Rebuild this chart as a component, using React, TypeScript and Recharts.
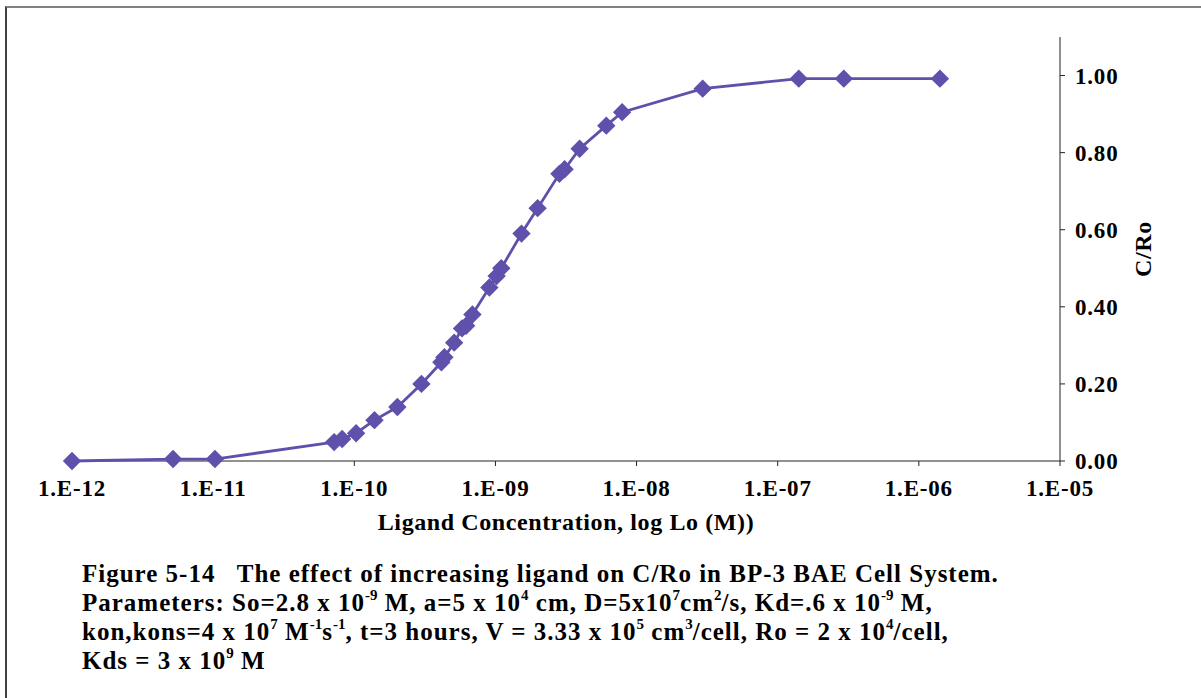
import React from 'react'
import { ScatterChart, Scatter, XAxis, YAxis } from 'recharts'

// ligand concentration (M) and C/Ro
const ligand = [
    1.0e-12, 5.2e-12, 1.03e-11, 7.2e-11, 8.2e-11, 1.03e-10, 1.39e-10, 2.02e-10, 2.99e-10,
    4.14e-10, 4.35e-10, 5.1e-10, 5.8e-10, 6.2e-10, 6.87e-10, 9.06e-10, 1.02e-9, 1.1e-9,
    1.53e-9, 1.99e-9, 2.84e-9, 3.09e-9, 3.95e-9, 6.1e-9, 7.9e-9, 2.94e-8, 1.41e-7, 2.94e-7, 1.41e-6,
]
const cRo = [
    0.0, 0.005, 0.005, 0.049, 0.057, 0.072, 0.106, 0.14, 0.2,
    0.256, 0.269, 0.307, 0.344, 0.351, 0.38, 0.45, 0.48, 0.5,
    0.59, 0.656, 0.745, 0.757, 0.81, 0.87, 0.905, 0.966, 0.992, 0.992, 0.992,
]
const xTicks = [1e-12, 1e-11, 1e-10, 1e-9, 1e-8, 1e-7, 1e-6, 1e-5]
const yTicks = [0, 0.2, 0.4, 0.6, 0.8, 1.0]

const data = ligand.map((x, i) => ({ x, y: cRo[i] }))

const purple = '#5f50ab'
const font = "'Liberation Serif', serif"
const tickStyle = { fill: '#000', fontSize: 23, fontWeight: 700, fontFamily: font, letterSpacing: 0.8 }

function Diamond(props: any) {
    const { cx, cy } = props
    const r = 9.2
    return <path d={`M${cx},${cy - r}L${cx + r},${cy}L${cx},${cy + r}L${cx - r},${cy}Z`} fill={purple} />
}

function fmtX(v: number) {
    const e = Math.round(Math.log10(v))
    return '1.E' + (e < 0 ? '-' : '+') + String(Math.abs(e)).padStart(2, '0')
}

function YTitle(props: any) {
    const vb = props.viewBox
    const x = vb.x + vb.width / 2 + 12
    const y = vb.y + vb.height / 2
    return (
        <text x={x} y={y} transform={`rotate(-90, ${x}, ${y})`} textAnchor="middle" dominantBaseline="central"
            fontSize={24} fontWeight={700} fontFamily={font} fill="#000" style={{ letterSpacing: 0.6 }}>C/Ro</text>
    )
}

const sup = (s: string) => (
    <sup style={{ fontSize: '0.6em', lineHeight: 0, verticalAlign: '0.75em', letterSpacing: 0 }}>{s}</sup>
)

export default function App() {
    return (
        <div style={{ position: 'absolute', left: 0, top: 0, width: 1201, height: 698, overflow: 'hidden', background: '#fff' }}>
            <div style={{ position: 'absolute', left: 5, top: 6, width: 1300, height: 800, borderTop: '2px solid #808080', borderLeft: '2px solid #404040' }} />
            <div style={{ position: 'absolute', left: 0, top: 0 }}>
                <ScatterChart width={1201} height={550} margin={{ top: 37, right: 0, bottom: 0, left: 72 }}>
                    <XAxis type="number" dataKey="x" scale="log" domain={[1e-12, 1e-5]} ticks={xTicks} interval={0}
                        tickFormatter={fmtX} height={89} stroke="#222" tick={tickStyle}
                        tickSize={5} tickMargin={14}
                        label={{ value: 'Ligand Concentration, log Lo (M))', position: 'insideBottom', offset: 20,
                            style: { fill: '#000', fontSize: 24, fontWeight: 700, fontFamily: font, letterSpacing: 0.6 } }} />
                    <YAxis type="number" dataKey="y" orientation="right" domain={[0, 1.1]} ticks={yTicks} interval={0}
                        tickFormatter={(v: number) => v.toFixed(2)} width={141} stroke="#222"
                        tick={tickStyle} tickSize={5} tickMargin={10} label={<YTitle />} />
                    <Scatter data={data} line={{ stroke: purple, strokeWidth: 2.8 }} shape={<Diamond />}
                        isAnimationActive={false} />
                </ScatterChart>
            </div>
            <div style={{ position: 'absolute', left: 82, top: 559, fontFamily: font, fontWeight: 700, fontSize: 25,
                lineHeight: '29px', letterSpacing: 1, whiteSpace: 'nowrap', color: '#000' }}>
                <div>Figure 5-14&nbsp;&nbsp; The effect of increasing ligand on C/Ro in BP-3 BAE Cell System.</div>
                <div>Parameters: So=2.8 x 10{sup('-9')} M, a=5 x 10{sup('4')} cm, D=5x10{sup('7')}cm{sup('2')}/s, Kd=.6 x 10{sup('-9')} M,</div>
                <div>kon,kons=4 x 10{sup('7')} M{sup('-1')}s{sup('-1')}, t=3 hours, V = 3.33 x 10{sup('5')} cm{sup('3')}/cell, Ro = 2 x 10{sup('4')}/cell,</div>
                <div>Kds = 3 x 10{sup('9')} M</div>
            </div>
        </div>
    )
}
